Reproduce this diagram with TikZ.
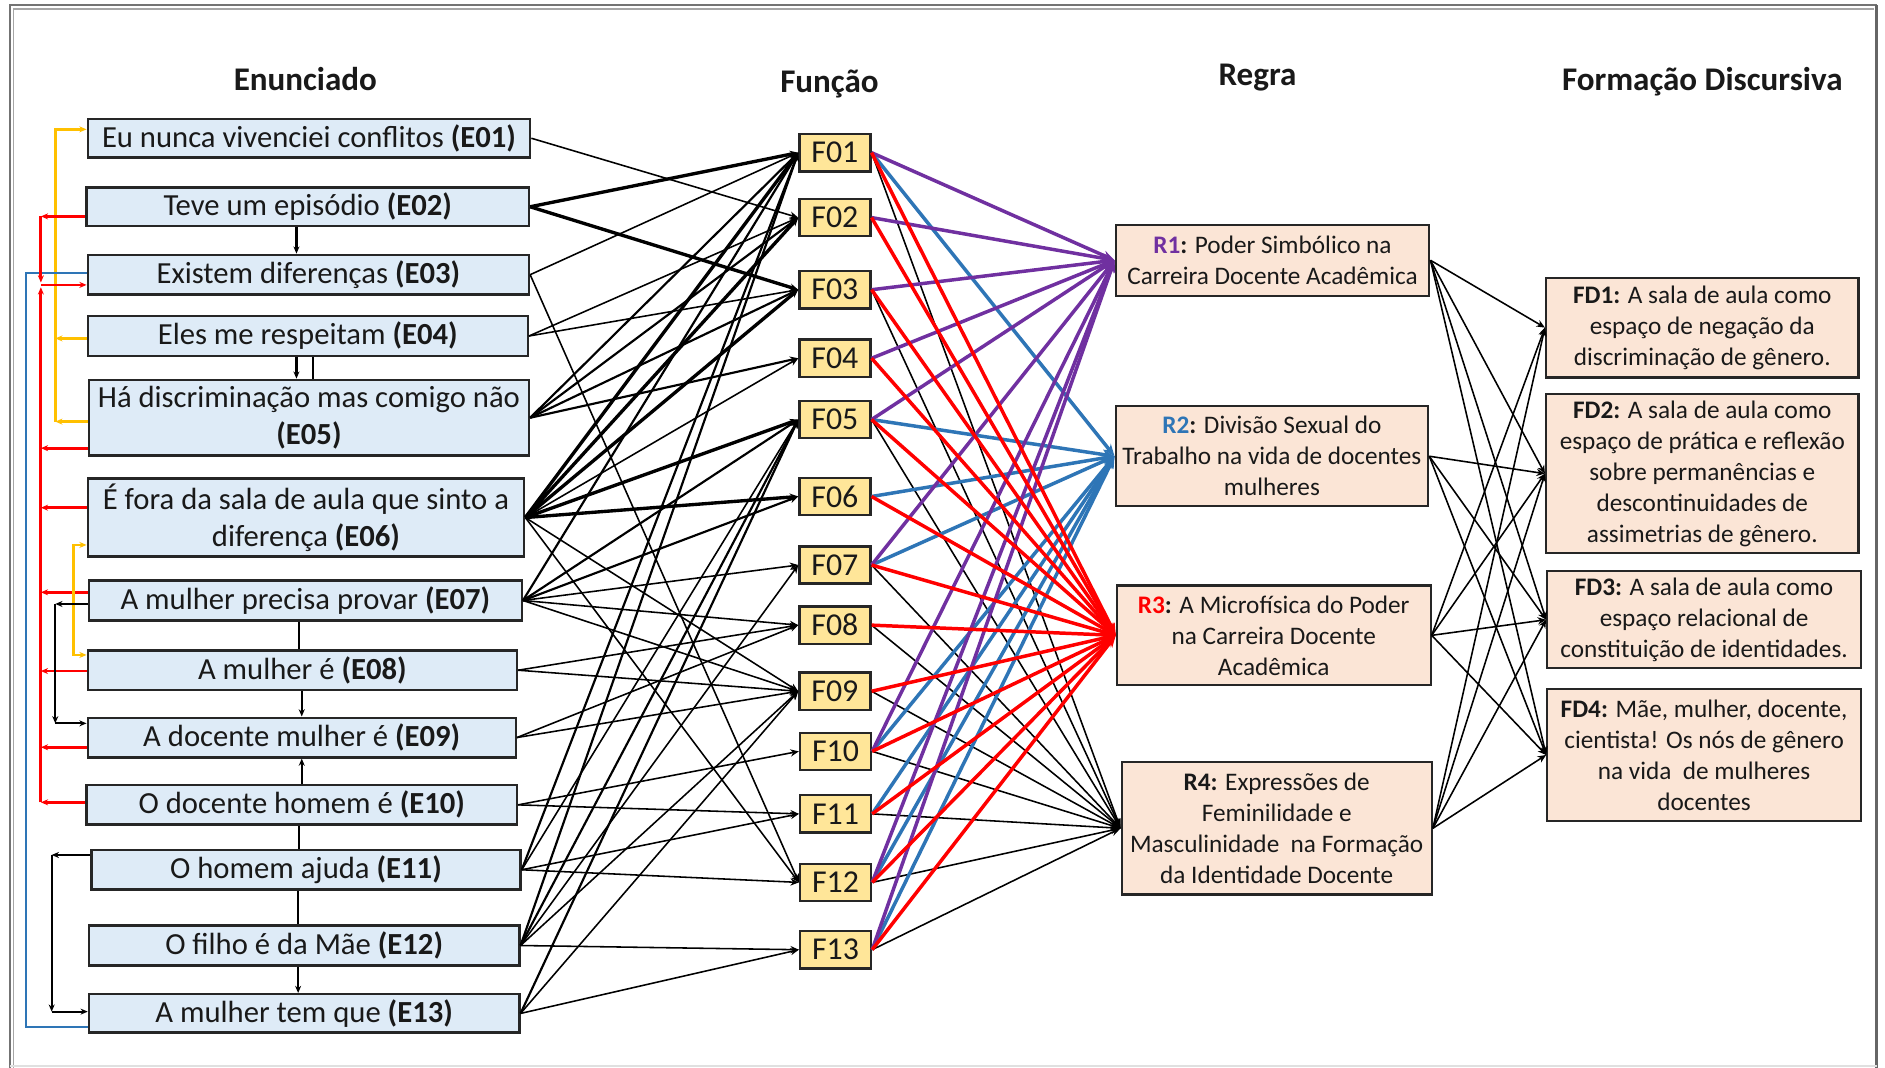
\documentclass[tikz,border=0pt]{standalone}
\usepackage{fontspec}
\setmainfont{Carlito}
\usetikzlibrary{arrows.meta}
\definecolor{eboxcol}{HTML}{DEEBF7}
\definecolor{fboxcol}{HTML}{FFE699}
\definecolor{rboxcol}{HTML}{FBE5D6}
\definecolor{bordercol}{HTML}{262626}
\definecolor{cpurple}{HTML}{7030A0}
\definecolor{cblue}{HTML}{2E75B6}
\definecolor{cred}{HTML}{FF0000}
\definecolor{cyellow}{HTML}{FFC000}
\begin{document}
\begin{tikzpicture}[x=1pt,y=-1pt,
  every node/.style={inner sep=0pt, text=black!90},
  ebox/.style={draw=bordercol, line width=2pt, fill=eboxcol, align=center,
    font=\fontsize{25.5}{31}\selectfont},
  fnode/.style={draw=bordercol, line width=2pt, fill=fboxcol,
    minimum width=59, minimum height=31, font=\fontsize{26.5}{30}\selectfont},
  rnode/.style={draw=bordercol, line width=1.8pt, fill=rboxcol, align=center,
    font=\fontsize{21}{25.8}\selectfont},
  hdr/.style={anchor=base, font=\bfseries\fontsize{27.5}{32}\selectfont},
  tipk/.style={-{Stealth[length=7pt,width=6pt]}},
  efthin/.style={tipk, line width=1.3pt},
  efmid/.style={tipk, line width=1.8pt},
  efthick/.style={tipk, line width=2.8pt},
  frline/.style={line width=2.9pt, -{Stealth[length=10pt,width=8pt]}},
  frblack/.style={line width=1.3pt, -{Stealth[length=8pt,width=6pt]}},
  rfline/.style={tipk, line width=1.3pt},
  lk/.style={line width=1.8pt},
  ltip/.style={-{Stealth[length=6pt,width=5pt]}},
]
\useasboundingbox (0,0) rectangle (1568,888);
\fill[white] (0,0) rectangle (1568,888);

% page frame
\draw[black!55, line width=1pt] (8.3,888) -- (8.3,4.2) -- (1561,4.2);
\draw[black!35, line width=0.9pt] (11.6,888) -- (11.6,7.5) -- (1559,7.5);
\draw[black!60, line width=2pt] (1561,4.2) -- (1561,888);
\draw[black!12, line width=1.5pt] (8.3,887) -- (1561,887);

% column headings
\node[hdr] (hE) at (254,75) {Enunciado};
\node[hdr] (hF) at (690,77) {Função};
\node[hdr] (hR) at (1046,71) {Regra};
\node[hdr] (hD) at (1416,75) {Formação Discursiva};

% utterances
\node[ebox, minimum width=368, minimum height=32] (E01) at (257,115) {Eu nunca vivenciei conflitos \textbf{(E01)}};
\node[ebox, minimum width=368, minimum height=32] (E02) at (256,172) {Teve um episódio \textbf{(E02)}};
\node[ebox, minimum width=367, minimum height=33] (E03) at (256.5,228.5) {Existem diferenças \textbf{(E03)}};
\node[ebox, minimum width=366, minimum height=33] (E04) at (256,279.5) {Eles me respeitam \textbf{(E04)}};
\node[ebox, minimum width=366, minimum height=63] (E05) at (257,347.5) {Há discriminação mas comigo não\\\textbf{(E05)}};
\node[ebox, minimum width=363, minimum height=65] (E06) at (254.5,430.5) {É fora da sala de aula que sinto a\\diferença \textbf{(E06)}};
\node[ebox, minimum width=360, minimum height=33] (E07) at (254,499.5) {A mulher precisa provar \textbf{(E07)}};
\node[ebox, minimum width=357, minimum height=33] (E08) at (251.5,557.5) {A mulher é \textbf{(E08)}};
\node[ebox, minimum width=356, minimum height=33] (E09) at (251,613.5) {A docente mulher é \textbf{(E09)}};
\node[ebox, minimum width=358, minimum height=33] (E10) at (251,669.5) {O docente homem é \textbf{(E10)}};
\node[ebox, minimum width=357, minimum height=33] (E11) at (254.5,723.5) {O homem ajuda \textbf{(E11)}};
\node[ebox, minimum width=358, minimum height=33] (E12) at (253,786.5) {O filho é da Mãe \textbf{(E12)}};
\node[ebox, minimum width=358, minimum height=32] (E13) at (253,843) {A mulher tem que \textbf{(E13)}};

% functions
\node[fnode] (F01) at (694.5,127) {F01};
\node[fnode] (F02) at (694.5,181) {F02};
\node[fnode] (F03) at (694.5,241) {F03};
\node[fnode] (F04) at (694.5,298) {F04};
\node[fnode] (F05) at (694.5,349) {F05};
\node[fnode] (F06) at (694.5,413) {F06};
\node[fnode] (F07) at (694.5,470) {F07};
\node[fnode] (F08) at (694.5,520) {F08};
\node[fnode] (F09) at (694.5,575) {F09};
\node[fnode] (F10) at (695,625) {F10};
\node[fnode] (F11) at (695,677) {F11};
\node[fnode] (F12) at (695,734) {F12};
\node[fnode] (F13) at (695,790) {F13};

% rules
\node[rnode, minimum width=261, minimum height=59] (R1) at (1058.5,216.5)
  {\textbf{\color{cpurple}R1}\textbf{:} Poder Simbólico na\\Carreira Docente Acadêmica};
\node[rnode, minimum width=260, minimum height=83] (R2) at (1058,379.5)
  {\textbf{\color{cblue}R2}\textbf{:} Divisão Sexual do\\Trabalho na vida de docentes\\mulheres};
\node[rnode, minimum width=261, minimum height=83] (R3) at (1059.5,528.5)
  {\textbf{\color{cred}R3}\textbf{:} A Microfísica do Poder\\na Carreira Docente\\Acadêmica};
\node[rnode, minimum width=258, minimum height=110] (R4) at (1062,689)
  {\textbf{R4:} Expressões de\\Feminilidade e\\Masculinidade\ \ na Formação\\da Identidade Docente};

% discursive formations
\node[rnode, minimum width=260, minimum height=83] (FD1) at (1416,272.5)
  {\textbf{FD1:} A sala de aula como\\espaço de negação da\\discriminação de gênero.};
\node[rnode, minimum width=260, minimum height=132] (FD2) at (1416,394)
  {\textbf{FD2:} A sala de aula como\\espaço de prática e reflexão\\sobre permanências e\\descontinuidades de\\assimetrias de gênero.};
\node[rnode, minimum width=261, minimum height=81] (FD3) at (1417.5,515.5)
  {\textbf{FD3:} A sala de aula como\\espaço relacional de\\constituição de identidades.};
\node[rnode, minimum width=261, minimum height=110] (FD4) at (1417.5,628)
  {\textbf{FD4:} Mãe, mulher, docente,\\cientista! Os nós de gênero\\na vida\ \ de mulheres\\docentes};

% links between utterances (left side)
\draw[cyellow, line width=2pt, ltip] (E04.west |- 0,281.5) -- (46,281.5);
\draw[cyellow, line width=2pt, ltip] (E05.west |- 0,350.7) -- (46,350.7);
\draw[cyellow, line width=2pt, ltip] (46,350.7) -- (46,107.6) -- (E01.west |- 0,107.6);

\draw[cblue, line width=1.7pt] (E03.west |- 0,227) -- (22,227) -- (22,854) -- (E13.west |- 0,854);

\draw[cred, line width=2.3pt, ltip] (E02.west |- 0,180) -- (34,180);
\draw[cred, line width=2.3pt, ltip] (34,180) -- (34,235);
\foreach \e/\yy in {E05/372.8, E06/422.3, E07/492.7, E08/558.2, E09/621.6, E10/667.4}
  \draw[cred, line width=2.3pt, ltip] (\e.west |- 0,\yy) -- (34,\yy);
\draw[cred, line width=2.3pt, ltip] (34,667.4) -- (34,239);
\draw[cred, line width=2.3pt, ltip] (34,237) -- (E03.west |- 0,237);

\draw[cyellow, line width=2pt, {Stealth[length=6pt,width=5pt]}-{Stealth[length=6pt,width=5pt]}]
  (E06.west |- 0,453.3) -- (61,453.3) -- (61,544.8) -- (E08.west |- 0,544.8);

\draw[lk, ltip] (E07.west |- 0,502.4) -- (46,502.4);
\draw[lk, ltip] (46,502.4) -- (46,601.7);
\draw[lk, ltip] (46,601.7) -- (E09.west |- 0,601.7);
\draw[lk, ltip] (E11.west |- 0,711.2) -- (43,711.2);
\draw[lk, ltip] (43,711.2) -- (43,841.5);
\draw[lk, ltip] (43,841.5) -- (E13.west |- 0,841.5);

% vertical links between stacked utterances
\draw[lk, ltip] (E02.south -| 246.6,0) -- (E03.north -| 246.6,0);
\draw[lk, ltip] (E04.south -| 246.6,0) -- (E05.north -| 246.6,0);
\draw[lk] (E04.south -| 260.5,0) -- (E05.north -| 260.5,0);
\draw[lk] (E07.south -| 249,0) -- (E08.north -| 249,0);
\draw[lk, ltip] (E08.south -| 251,0) -- (E09.north -| 251,0);
\draw[lk, ltip] (E10.north -| 251,0) -- (E09.south -| 251,0);
\draw[lk] (E10.south -| 249,0) -- (E11.north -| 249,0);
\draw[lk] (E11.south -| 248,0) -- (E12.north -| 248,0);
\draw[lk, ltip] (E12.south -| 248,0) -- (E13.north -| 248,0);

% utterance -> function
\foreach \a/\b in {E01/F02,E03/F01,E03/F12,E04/F02,E04/F03,E06/F04,E06/F09,E06/F12,
    E07/F07,E07/F08,E07/F09,E08/F08,E08/F09,E09/F08,E09/F09,E10/F10,E10/F11,
    E11/F05,E11/F11,E11/F12,E12/F07,E12/F09,E12/F13,E13/F09,E13/F13}
  \draw[efthin] (\a.east) -- (\b.west);
\foreach \a/\b in {E05/F01,E05/F02,E05/F03,E05/F04,E07/F01,E07/F05,E07/F06,
    E11/F01,E12/F01,E12/F05,E13/F05}
  \draw[efmid] (\a.east) -- (\b.west);
\foreach \a/\b in {E02/F01,E02/F03,E06/F01,E06/F02,E06/F03,E06/F05,E06/F06}
  \draw[efthick] (\a.east) -- (\b.west);

% function -> rule
\foreach \f in {F01,F03,F05,F07,F08,F09,F10,F11,F12,F13}
  \draw[frblack] (\f.east) -- (R4.west);
\foreach \f in {F01,F05,F06,F07,F10,F11,F12,F13}
  \draw[frline, cblue] (\f.east) -- (R2.west);
\foreach \f in {F01,F02,F03,F04,F05,F07,F10,F12,F13}
  \draw[frline, cpurple] (\f.east) -- (R1.west);
\foreach \f in {F01,F02,F03,F04,F05,F06,F07,F08,F09,F10,F11,F12,F13}
  \draw[frline, cred] (\f.east) -- (R3.west);

% rule -> discursive formation
\foreach \r/\d in {R1/FD1,R1/FD2,R1/FD3,R1/FD4,R2/FD2,R2/FD3,R2/FD4,
    R3/FD1,R3/FD2,R3/FD3,R3/FD4,R4/FD1,R4/FD2,R4/FD3,R4/FD4}
  \draw[rfline] (\r.east) -- (\d.west);
\end{tikzpicture}
\end{document}
